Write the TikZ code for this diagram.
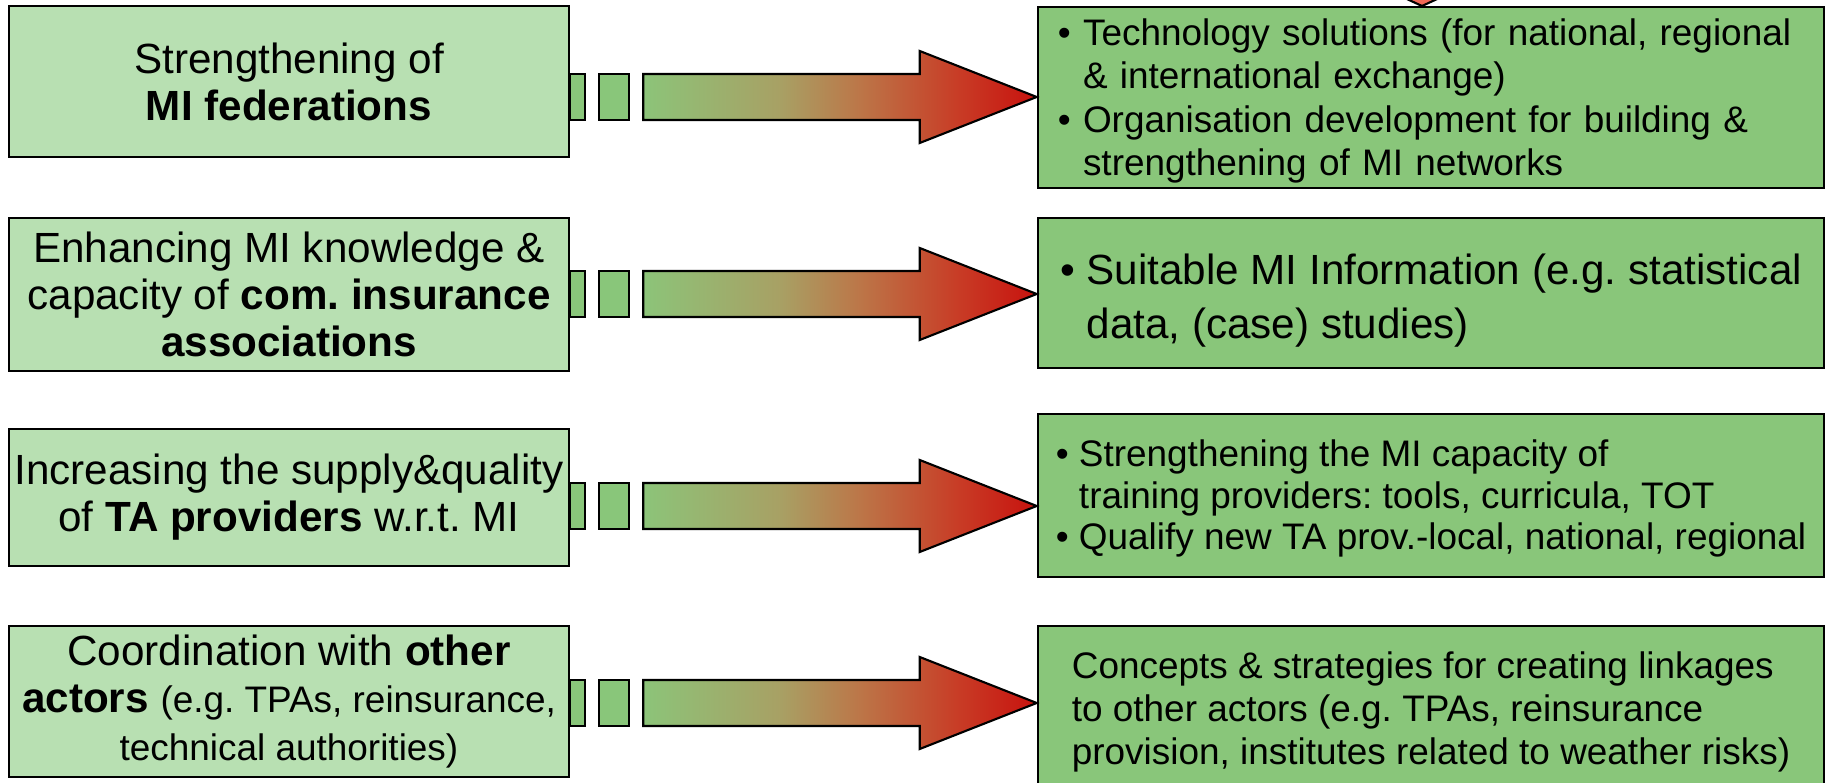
\documentclass[tikz,border=0pt]{standalone}
\usepackage{fontspec}
\setmainfont{Liberation Sans}
\frenchspacing
\usetikzlibrary{positioning,calc}

\definecolor{lightgreen}{RGB}{184,224,178}
\definecolor{midgreen}{RGB}{137,198,122}
\definecolor{arrowgreen}{RGB}{140,196,121}
\definecolor{arrowolive}{RGB}{168,160,100}
\definecolor{arrowtan}{RGB}{188,118,72}
\definecolor{arroworange}{RGB}{200,60,38}
\definecolor{arrowred}{RGB}{200,18,14}
\definecolor{salmon}{RGB}{240,104,86}

\pgfdeclarehorizontalshading{arrowshade}{100bp}{color(0bp)=(arrowgreen); color(25bp)=(arrowgreen);
  color(42.5bp)=(arrowolive); color(52.5bp)=(arrowtan); color(65bp)=(arroworange);
  color(75bp)=(arrowred); color(100bp)=(arrowred)}

\tikzset{
  goalbox/.style={draw=black, line width=0.6pt, fill=lightgreen, align=center,
    minimum width=5.6cm, inner sep=1pt, font=\fontsize{12}{13.4}\selectfont},
  outbox/.style={draw=black, line width=0.6pt, fill=midgreen, align=left,
    minimum width=7.86cm, inner sep=1pt},
  sqbox/.style={draw=black, line width=0.6pt, fill=midgreen},
  bigarrow/.style={draw=black, line width=0.6pt, shading=arrowshade},
}
\newcommand{\smallpar}[1]{{\fontsize{10.5}{13.4}\selectfont #1}}
\newcommand{\bul}{\textbullet\ }
\newcommand{\nobul}{\phantom{\textbullet\ }}
\newcommand{\topgap}[1]{\rule{0pt}{#1}}

\begin{document}
\begin{tikzpicture}[x=0.01cm,y=-0.01cm]
\path[use as bounding box] (0,0) rectangle (1827,783);
\clip (0,0) rectangle (1827,783);

\node[goalbox, minimum height=1.51cm] (l1) at (289,81.5) {Strengthening of\\\textbf{MI federations}};
\node[goalbox, minimum height=1.53cm] (l2) at (289,294.5) {Enhancing MI knowledge \&\\capacity of \textbf{com. insurance}\\\textbf{associations}};
\node[goalbox, minimum height=1.37cm] (l3) at (289,497.5) {Increasing the supply\&quality\\of \textbf{TA providers} w.r.t. MI};
\node[goalbox, minimum height=1.51cm] (l4) at (289,701.5) {Coordination with \textbf{other}\\\textbf{actors} \smallpar{(e.g. TPAs, reinsurance,}\\\smallpar{technical authorities)}};

\node[outbox, minimum height=1.81cm, text width=7.46cm, inner xsep=0.2cm, font=\fontsize{10.5}{12.3}\selectfont] (r1) at (1431,97.5) {\topgap{9.6pt}\bul Technology solutions (for national, regional\\\nobul\& international exchange)\\\bul Organisation development for building \&\\\nobul strengthening of MI networks};
\node[outbox, minimum height=1.50cm, font=\fontsize{12}{15.4}\selectfont] (r2) at (1431,293) {\topgap{13.1pt}\bul Suitable MI Information (e.g. statistical\\\nobul data, (case) studies)};
\node[outbox, minimum height=1.63cm, font=\fontsize{10.5}{11.8}\selectfont] (r3) at (1431,495.5) {\topgap{9.5pt}\bul Strengthening the MI capacity of\\\nobul training providers: tools, curricula, TOT\\\bul Qualify new TA prov.-local, national, regional};
\node[outbox, minimum height=1.66cm, font=\fontsize{10.5}{12.2}\selectfont] (r4) at (1431,709) {\topgap{9.5pt}Concepts \& strategies for creating linkages\\to other actors (e.g. TPAs, reinsurance\\provision, institutes related to weather risks)};

\draw[fill=salmon, line width=0.6pt] (1396,-6) -- (1448,-6) -- (1422,6) -- cycle;

\foreach \i/\y in {1/97,2/294,3/506,4/703}{
  \coordinate (t\i) at (r\i.west |- 0,\y);
  \coordinate (s\i) at (l\i.east |- t\i);
  \draw[sqbox] ($(s\i)+(0,-23)$) rectangle ($(s\i)+(15,23)$);
  \draw[sqbox] ($(s\i)+(29,-23)$) rectangle ($(s\i)+(59,23)$);
  \draw[bigarrow] ($(s\i)+(73,-23)$) -- ($(t\i)+(-117,-23)$) -- ($(t\i)+(-117,-46)$) -- (t\i)
    -- ($(t\i)+(-117,46)$) -- ($(t\i)+(-117,23)$) -- ($(s\i)+(73,23)$) -- cycle;
}
\end{tikzpicture}
\end{document}
